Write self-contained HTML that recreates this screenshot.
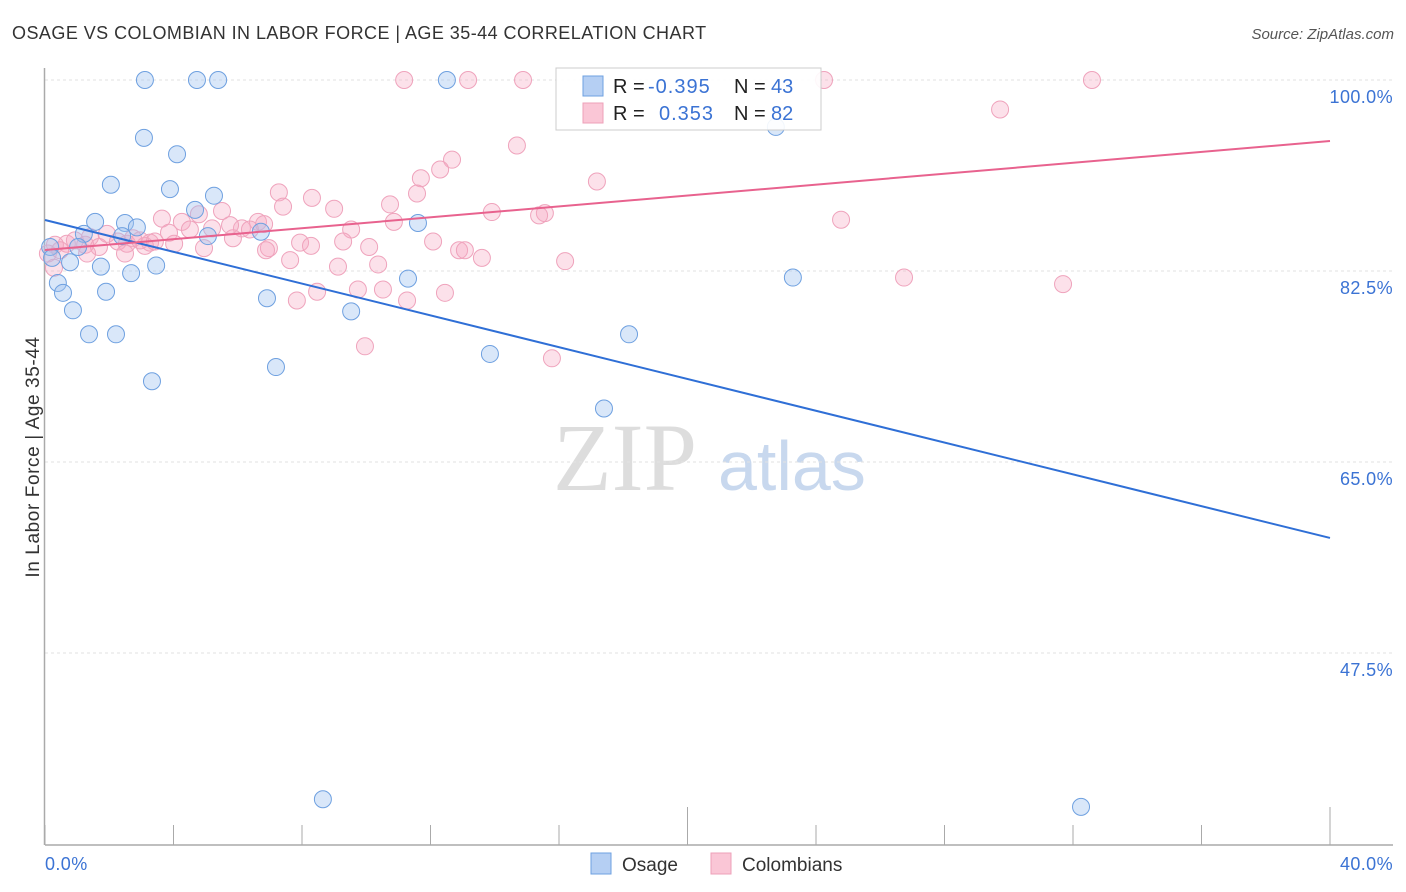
<!DOCTYPE html>
<html><head><meta charset="utf-8"><style>
body{margin:0;background:#fff;font-family:"Liberation Sans",sans-serif;}
svg{display:block}
</style></head><body>
<svg id="chart" width="1406" height="892" xmlns="http://www.w3.org/2000/svg">
<text x="12" y="39" font-size="18" fill="#333" letter-spacing="0.45">OSAGE VS COLOMBIAN IN LABOR FORCE | AGE 35-44 CORRELATION CHART</text>
<text x="1394" y="39" font-size="15" fill="#555" font-style="italic" text-anchor="end">Source: ZipAtlas.com</text>
<g>
<text x="553" y="490" font-family="Liberation Serif,serif" font-size="96" fill="#ddd">ZIP</text>
<text x="718" y="490" font-size="70" fill="#c8d8ee">atlas</text>
</g>
<g id="grid"></g>
<g id="axes"></g>
<g id="pts"></g>
<g id="trends"></g>
<text x="33" y="463" font-size="19" fill="#333" letter-spacing="0.6" text-anchor="middle" transform="rotate(-90 33 457)">In Labor Force | Age 35-44</text>
<g>
<rect x="556" y="68" width="265" height="62" fill="#fff" fill-opacity="0.9" stroke="#ccc"/>
<rect x="583" y="76" width="20" height="20" fill="#b5cff3" stroke="#6ea0e0"/>
<rect x="583" y="103" width="20" height="20" fill="#fac6d6" stroke="#eea0b8"/>
<text x="613" y="93" font-size="20" fill="#222">R = <tspan fill="#3b73d4" x="648" letter-spacing="1">-0.395</tspan><tspan fill="#222" x="734">N = </tspan><tspan fill="#3b73d4" x="771">43</tspan></text>
<text x="613" y="120" font-size="20" fill="#222">R = <tspan fill="#3b73d4" x="659" letter-spacing="1">0.353</tspan><tspan fill="#222" x="734">N = </tspan><tspan fill="#3b73d4" x="771">82</tspan></text>
</g>
<g>
<rect x="591" y="853" width="20" height="21" fill="#b5cff3" stroke="#6ea0e0"/>
<text x="622" y="871" font-size="19" fill="#333">Osage</text>
<rect x="711" y="853" width="20" height="21" fill="#fac6d6" stroke="#eea0b8"/>
<text x="742" y="871" font-size="19" fill="#333">Colombians</text>
</g>
</svg>
<script>
const yTicks=[100,82.5,65,47.5];
const yTickLabels=["100.0%","82.5%","65.0%","47.5%"];
const xTickVals=[0,4,8,12,16,20,24,28,32,36,40];
const xEndLabels=["0.0%","40.0%"];
const osageX=[3.11,4.73,5.39,12.51,22.75,3.08,4.11,2.05,3.89,5.26,4.67,1.56,2.49,2.86,11.61,2.40,5.07,6.72,1.21,1.03,0.16,0.22,0.78,1.74,3.46,2.68,11.30,23.28,0.40,0.56,1.90,6.91,0.87,9.53,1.37,2.21,18.18,13.85,7.19,3.33,17.40,8.65,32.25];
const osageY=[100,100,100,100,95.7,94.7,93.2,90.4,90.0,89.4,88.1,87.0,86.9,86.5,86.9,85.7,85.7,86.1,85.9,84.7,84.7,83.7,83.3,82.9,83.0,82.3,81.8,81.9,81.4,80.5,80.6,80.0,78.9,78.8,76.7,76.7,76.7,74.9,73.7,72.4,69.9,34.1,33.4];
const colX=[11.18,13.17,14.88,24.25,32.59,29.73,14.69,12.67,12.30,11.70,17.18,7.28,11.58,8.31,10.74,7.41,9.00,15.56,13.91,15.38,4.79,5.51,3.64,4.26,6.63,6.82,10.86,24.78,5.20,4.51,6.13,6.38,3.86,1.93,1.40,9.53,5.85,2.74,2.27,3.27,3.11,0.68,2.55,7.94,8.28,9.28,12.08,4.02,1.25,0.31,1.68,4.95,6.97,10.09,12.89,13.07,2.49,1.31,0.09,13.60,16.19,7.63,10.37,9.12,0.28,26.74,31.69,10.52,9.74,8.47,12.45,11.27,7.84,9.96,15.78,0.47,0.93,2.96,3.42,5.76,6.88];
const colY=[100,100,100,100,100,97.3,94.0,92.7,91.8,91.0,90.7,89.7,89.6,89.2,88.6,88.4,88.2,87.8,87.9,87.6,87.7,88.0,87.3,87.0,87.0,86.8,87.0,87.2,86.4,86.3,86.4,86.3,86.0,85.9,85.6,86.3,85.5,85.5,85.2,85.1,84.8,85.0,85.0,85.1,84.8,85.2,85.2,85.0,84.9,84.9,84.7,84.6,84.6,84.7,84.4,84.4,84.1,84.1,84.1,83.7,83.4,83.5,83.1,82.9,82.8,81.9,81.3,80.8,80.8,80.6,80.5,79.8,79.8,75.6,74.5,84.4,85.3,85.3,85.2,86.7,84.4];
const osageTrend=[87.17,58.04];
const colTrend=[84.42,94.41];
const NS="http://www.w3.org/2000/svg";
const sx=v=>45+v*32.125;
const sy=v=>80+(100-v)*10.914;
function mk(tag,attrs,parent){const e=document.createElementNS(NS,tag);for(const k in attrs)e.setAttribute(k,attrs[k]);parent.appendChild(e);return e;}
const grid=document.getElementById('grid'),axes=document.getElementById('axes'),pts=document.getElementById('pts'),tr=document.getElementById('trends');
yTicks.forEach((t,i)=>{
 const l=mk('line',{x1:45,x2:1393,y1:sy(t),y2:sy(t),stroke:'#e2e2e2','stroke-dasharray':'3 3'},grid);
 
 
 const tx=mk('text',{x:1393,y:sy(t)+23,'font-size':18,fill:'#3b73d4','text-anchor':'end','letter-spacing':0.4},axes);
 tx.textContent=yTickLabels[i];
 
 
});
const ya=mk('line',{x1:44.5,x2:44.5,y1:68,y2:845,stroke:'#aaa','stroke-width':1.5},axes);


const xa=mk('line',{x1:45,x2:1393,y1:845,y2:845,stroke:'#aaa','stroke-width':1.5},axes);


xTickVals.forEach((v,i)=>{
 const major=(v===20||v===40);
 const t=mk('line',{x1:sx(v),x2:sx(v),y1:major?807:825,y2:845,stroke:'#aaa'},axes);
 
 
});
[[0,'start',45],[40,'end',1393]].forEach((a,i)=>{
 const tx=mk('text',{x:a[2],y:870,'font-size':18,fill:'#3b73d4','text-anchor':a[1],'letter-spacing':0.4},axes);
 tx.textContent=xEndLabels[i];
 
 
});
colX.forEach((x,i)=>{
 const c=mk('circle',{cx:sx(x),cy:sy(colY[i]),r:8.5,fill:'rgba(245,170,195,0.35)',stroke:'#efa3bc','stroke-width':1},pts);
 
 
});
osageX.forEach((x,i)=>{
 const c=mk('circle',{cx:sx(x),cy:sy(osageY[i]),r:8.5,fill:'rgba(160,196,240,0.4)',stroke:'#6ea0e0','stroke-width':1},pts);
 
 
});
const l1=mk('line',{x1:sx(0),y1:sy(osageTrend[0]),x2:sx(40),y2:sy(osageTrend[1]),stroke:'#2f6fd6','stroke-width':2},tr);


const l2=mk('line',{x1:sx(0),y1:sy(colTrend[0]),x2:sx(40),y2:sy(colTrend[1]),stroke:'#e8628e','stroke-width':2},tr);


</script>
</body></html>
